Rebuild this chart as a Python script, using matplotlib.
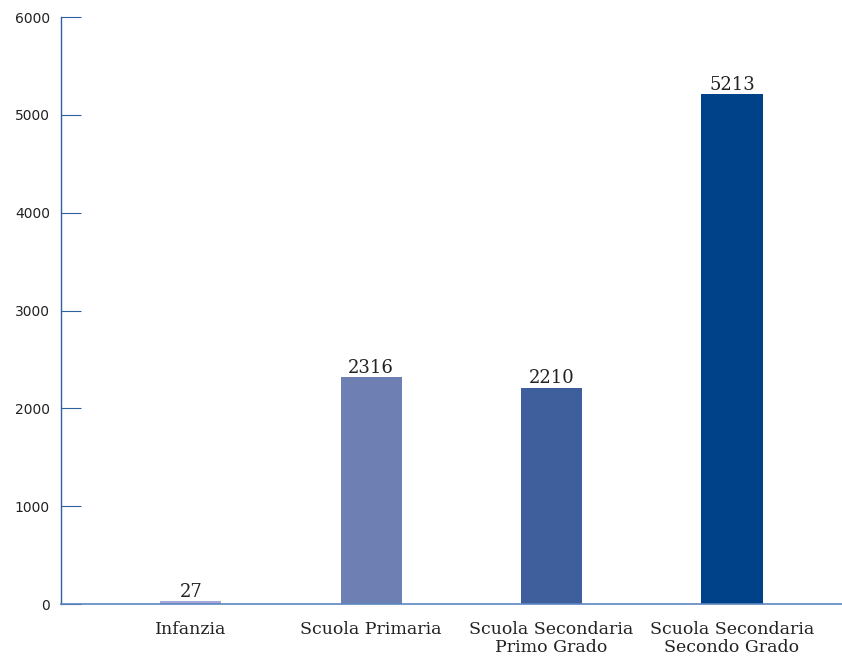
import matplotlib
matplotlib.use('Agg')
import matplotlib.pyplot as plt

categories = ['Infanzia', 'Scuola Primaria', 'Scuola Secondaria\nPrimo Grado',
              'Scuola Secondaria\nSecondo Grado']
values = [27, 2316, 2210, 5213]
bar_colors = ['#a3a8d8', '#6e7fb4', '#3f5e9c', '#00428a']

fig = plt.figure(figsize=(8.42, 6.58), dpi=100)
ax = fig.add_axes([0.0724, 0.082, 0.9276, 0.892])

x = range(len(categories))
bars = ax.bar(x, values, width=0.34, color=bar_colors, zorder=2)

for xi, v in zip(x, values):
    ax.text(xi, v + 5, str(v), ha='center', va='bottom',
            fontsize=13, family='DejaVu Serif', color='#222222')

ax.set_xlim(-0.72, 3.61)
ax.set_ylim(0, 6000)
ax.set_yticks(range(0, 6001, 1000))
ax.set_xticks(list(x))
ax.set_xticklabels(categories, fontsize=12.5, family='DejaVu Serif',
                   color='#222222', linespacing=1.1)

for s in ['top', 'right']:
    ax.spines[s].set_visible(False)
ax.spines['left'].set_color('#2f5fa0')
ax.spines['bottom'].set_color('#5b86bf')
ax.spines['left'].set_linewidth(1.0)
ax.spines['bottom'].set_linewidth(1.2)

ax.tick_params(axis='y', direction='in', length=14.5, color='#2f5fa0',
               labelsize=10, pad=8, labelcolor='#222222')
ax.tick_params(axis='x', length=0, pad=12)

fig.savefig('out.png', dpi=100)
